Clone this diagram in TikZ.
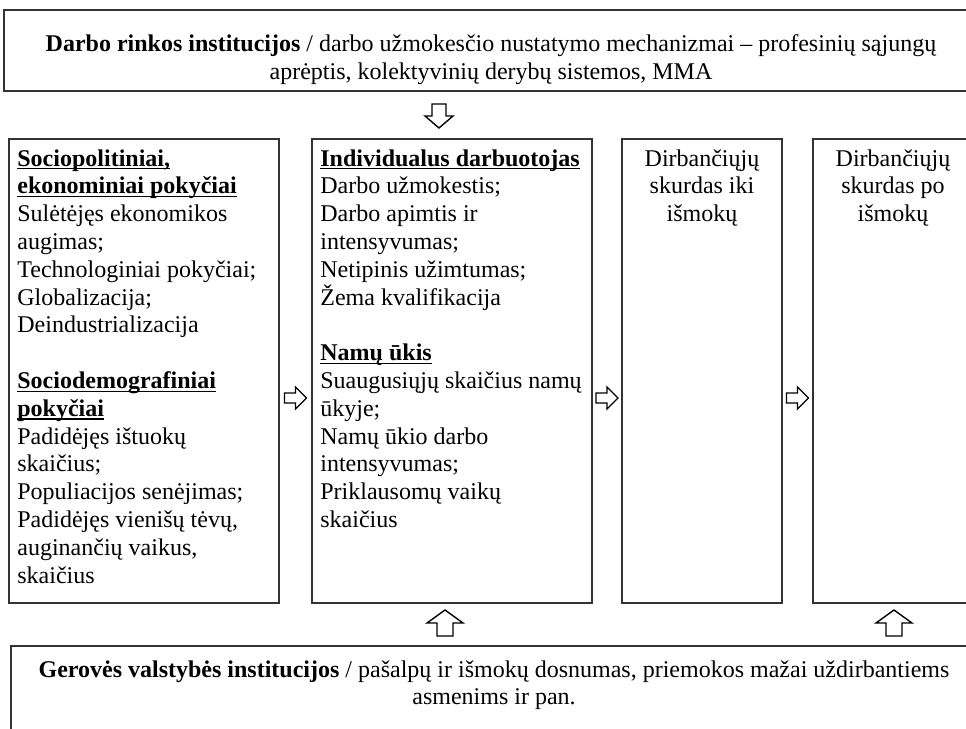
\documentclass[tikz,border=0pt]{standalone}
\usepackage{fontspec}
\setmainfont{Liberation Serif}
\usetikzlibrary{calc,fit}
\newsavebox{\hdsave}
\newcommand{\hdul}[1]{\sbox{\hdsave}{\textbf{#1}}\rlap{\rule[-1.7pt]{\wd\hdsave}{0.65pt}}\usebox{\hdsave}}
\begin{document}
\begin{tikzpicture}[x=0.5pt,y=-0.5pt,
  box/.style={draw=black!80,line width=0.75pt,inner sep=0pt},
  txt/.style={inner sep=0pt,align=left,anchor=north west,font=\fontsize{12}{13.9}\selectfont},
  ctxt/.style={inner sep=0pt,align=center,anchor=north,font=\fontsize{12}{13.9}\selectfont},
  arr/.style={draw=black,line width=0.7pt,fill=white,line join=miter},
  rarr/.pic={\draw[arr] (-11,-5) -- (0,-5) -- (0,-11) -- (11,0) -- (0,11) -- (0,5) -- (-11,5) -- cycle;},
  darr/.pic={\draw[arr] (-7,-12) -- (7,-12) -- (7,0) -- (14,0) -- (0,12) -- (-14,0) -- (-7,0) -- cycle;},
  uarr/.pic={\draw[arr] (-8,13) -- (8,13) -- (8,0) -- (18,0) -- (0,-13) -- (-18,0) -- (-8,0) -- cycle;}
]
\useasboundingbox (0,0) rectangle (966,729);

% boxes
\node[box,fit={(4,10) (980,91)}] (top) {};
\node[box,fit={(9,139) (279,603)}] (b1) {};
\node[box,fit={(312,139) (592,603)}] (b2) {};
\node[box,fit={(622,139) (782,603)}] (b3) {};
\node[box,fit={(813,139) (975,603)}] (b4) {};
\node[box,fit={(11,646) (977,760)}] (bot) {};

% top text
\node[ctxt] (toptxt) at (491,34) {\textbf{Darbo rinkos institucijos} / darbo užmokesčio nustatymo mechanizmai – profesinių sąjungų\\ aprėptis, kolektyvinių derybų sistemos, MMA};

% box texts
\node[txt] (t1) at (17,149) {\hdul{Sociopolitiniai,}\\
\hdul{ekonominiai pokyčiai}\\
Sulėtėjęs ekonomikos\\
augimas;\\
Technologiniai pokyčiai;\\
Globalizacija;\\
Deindustrializacija\\[13.9pt]
\hdul{Sociodemografiniai}\\
\hdul{pokyčiai}\\
Padidėjęs ištuokų\\
skaičius;\\
Populiacijos senėjimas;\\
Padidėjęs vienišų tėvų,\\
auginančių vaikus,\\
skaičius};

\node[txt] (t2) at (320,149) {\hdul{Individualus darbuotojas}\\
Darbo užmokestis;\\
Darbo apimtis ir\\
intensyvumas;\\
Netipinis užimtumas;\\
Žema kvalifikacija\\[13.9pt]
\hdul{Namų ūkis}\\
Suaugusiųjų skaičius namų\\
ūkyje;\\
Namų ūkio darbo\\
intensyvumas;\\
Priklausomų vaikų\\
skaičius};

\node[ctxt] (t3) at (702,149) {Dirbančiųjų\\ skurdas iki\\ išmokų};
\node[ctxt] (t4) at (893,149) {Dirbančiųjų\\ skurdas po\\ išmokų};

% bottom text
\node[ctxt] (bottxt) at (494,660) {\textbf{Gerovės valstybės institucijos} / pašalpų ir išmokų dosnumas, priemokos mažai uždirbantiems\\ asmenims ir pan.};

% block arrows
\coordinate (a0) at (439,116);
\pic at (a0) {darr};
\coordinate (a1) at ($(b1.east)!0.5!(b2.west)+(0,27)$);
\pic at (a1) {rarr};
\coordinate (a2) at ($(b2.east)!0.5!(b3.west)+(0,27)$);
\pic at (a2) {rarr};
\coordinate (a3) at ($(b3.east)!0.5!(b4.west)+(0,27)$);
\pic at (a3) {rarr};
\coordinate (a4) at (445,623);
\pic at (a4) {uarr};
\coordinate (a5) at (894,623);
\pic at (a5) {uarr};
\end{tikzpicture}
\end{document}
